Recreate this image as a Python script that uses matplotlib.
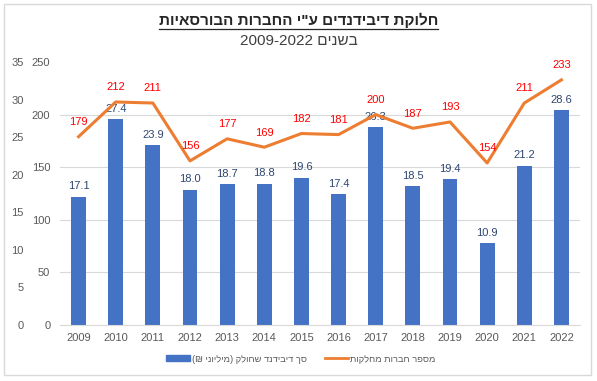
import matplotlib
matplotlib.use('Agg')
import matplotlib.pyplot as plt
import numpy as np
from matplotlib.lines import Line2D
from matplotlib.patches import Rectangle, Patch

# ---------------- data ----------------
years = ['2009', '2010', '2011', '2012', '2013', '2014', '2015',
         '2016', '2017', '2018', '2019', '2020', '2021', '2022']
dividends = [17.1, 27.4, 23.9, 18.0, 18.7, 18.8, 19.6, 17.4, 26.3, 18.5, 19.4, 10.9, 21.2, 28.6]
companies = [179, 212, 211, 156, 177, 169, 182, 181, 200, 187, 193, 154, 211, 233]
bar_ticks = [0, 5, 10, 15, 20, 25, 30, 35]
line_ticks = [0, 50, 100, 150, 200, 250]

title_text = 'חלוקת דיבידנדים ע"י החברות הבורסאיות'
subtitle_word = 'בשנים'
subtitle_years = '2009-2022'
legend_bars = 'סך דיבידנד שחולק (מיליוני ₪)'
legend_line = 'מספר חברות מחלקות'


def visual(s):
    """Reorder a purely right-to-left string for left-to-right drawing."""
    r = s[::-1]
    return r.translate(str.maketrans('()', ')('))


FAM = ['Liberation Sans', 'DejaVu Sans']
plt.rcParams['font.family'] = FAM

BAR_C = '#4472C4'
LINE_C = '#ED7D31'
GRID_C = '#D9D9D9'
TICK_C = '#595959'

W, H = 597, 381
fig = plt.figure(figsize=(W / 100, H / 100), dpi=100)
fig.patch.set_facecolor('white')

ax = fig.add_axes([60 / W, (H - 325) / H, 520 / W, 263 / H])
x = np.arange(len(years))

ax.bar(x, dividends, width=0.4, color=BAR_C, zorder=2)
ax.set_xlim(-0.5, len(years) - 0.5)
ax.set_ylim(bar_ticks[0], bar_ticks[-1])
ax.set_yticks(bar_ticks)
ax.set_yticklabels([str(t) for t in bar_ticks])
ax.set_xticks(x)
ax.set_xticklabels(years)
# gridlines follow the line axis scale (0..250)
ax.set_yticks([t * bar_ticks[-1] / line_ticks[-1] for t in line_ticks], minor=True)
ax.grid(which='minor', axis='y', color=GRID_C, lw=0.8, zorder=0)
ax.set_axisbelow(True)
ax.tick_params(which='minor', length=0)
ax.tick_params(axis='y', which='major', length=0, pad=26, labelsize=8, labelcolor=TICK_C)
ax.tick_params(axis='x', length=0, pad=6, labelsize=8, labelcolor=TICK_C)
for s in ['top', 'right', 'left']:
    ax.spines[s].set_visible(False)
ax.spines['bottom'].set_color(GRID_C)
ax.spines['bottom'].set_linewidth(0.8)

for xi, v in zip(x, dividends):
    ax.annotate(f'{v:.1f}', (xi, v), xytext=(0, 7.5), textcoords='offset points',
                ha='center', va='center', fontsize=8, color='#2F4670', zorder=3)

ax2 = ax.twinx()
ax2.plot(x, companies, color=LINE_C, lw=2.2, zorder=3)
ax2.set_ylim(line_ticks[0], line_ticks[-1])
ax2.set_yticks(line_ticks)
ax2.set_yticklabels([str(t) for t in line_ticks])
ax2.yaxis.tick_left()
ax2.tick_params(axis='y', length=0, pad=7, labelsize=8, labelcolor=TICK_C)
for s in ax2.spines.values():
    s.set_visible(False)

for xi, v in zip(x, companies):
    ax2.annotate(str(v), (xi, v), xytext=(0, 10.5), textcoords='offset points',
                 ha='center', va='center', fontsize=8, color='#FF0000')

# titles
t = fig.text(0.5, 1 - 20 / H, visual(title_text), ha='center', va='center',
             fontsize=11, fontweight='bold', color='#262626')
fig.text(0.5, 1 - 41 / H, subtitle_years + ' ' + visual(subtitle_word),
         ha='center', va='center', fontsize=11, color='#404040')

# legend
handles = [Patch(facecolor=BAR_C, edgecolor=BAR_C),
           Line2D([0], [0], color=LINE_C, lw=2)]
fig.legend(handles, [visual(legend_bars), visual(legend_line)],
           loc='center', bbox_to_anchor=(301 / W, 1 - 359 / H), ncol=2, frameon=False,
           fontsize=6.7, labelcolor=TICK_C, handlelength=2.5, handleheight=0.6,
           columnspacing=1.9, handletextpad=0.25)

# outer frame
fig.add_artist(Rectangle((4 / W, 1 - 375 / H), (591 - 4) / W, (375 - 4) / H,
                         transform=fig.transFigure, fill=False, edgecolor=GRID_C, lw=1))

# underline the title
fig.canvas.draw()
bb = t.get_window_extent(renderer=fig.canvas.get_renderer())
inv = fig.transFigure.inverted()
(x0, y0), (x1, _) = inv.transform([(bb.x0, bb.y0), (bb.x1, bb.y0)])
fig.add_artist(Line2D([x0, x1], [y0 - 1.0 / H, y0 - 1.0 / H], transform=fig.transFigure,
                      color='#262626', lw=0.9))

fig.savefig('out.png', dpi=100, facecolor='white')
